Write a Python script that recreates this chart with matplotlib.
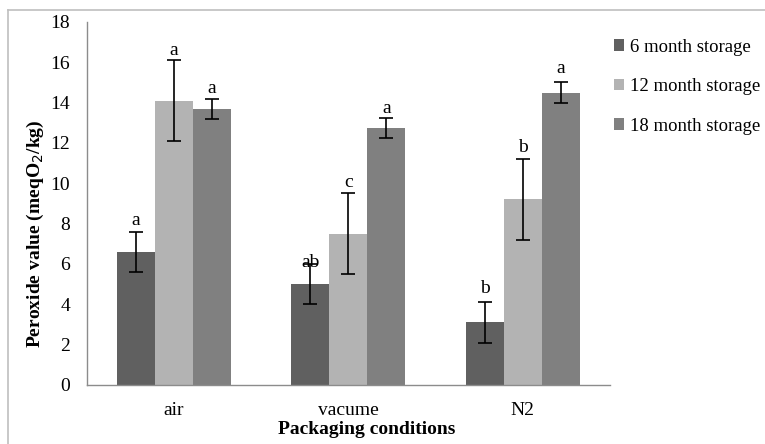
import numpy as np
import matplotlib
matplotlib.use("Agg")
import matplotlib.pyplot as plt
from matplotlib.lines import Line2D

plt.rcParams['font.family'] = ['Liberation Serif', 'DejaVu Serif']

# data
conditions = ['air', 'vacume', 'N2']
series = ['6 month storage', '12 month storage', '18 month storage']
m6 = [6.6, 5.0, 3.1]
m12 = [14.1, 7.5, 9.2]
m18 = [13.7, 12.75, 14.5]
err6 = [1.0, 1.0, 1.0]
err12 = [2.0, 2.0, 2.0]
err18 = [0.5, 0.5, 0.5]
letters6 = ['a', 'ab', 'b']
letters12 = ['a', 'c', 'b']
letters18 = ['a', 'a', 'a']
# heights where the significance letters sit
lety6 = [8.15, 6.05, 4.8]
lety12 = [16.6, 10.05, 11.8]
lety18 = [14.7, 13.7, 15.7]
colors = ['#606060', '#b3b3b3', '#808080']

fig = plt.figure(figsize=(7.65, 4.44), dpi=100)
ax = fig.add_axes([0.1137, 0.1329, 0.6833, 0.8176])

x = np.arange(len(conditions))
w = 0.218
vals = [m6, m12, m18]
errs = [err6, err12, err18]
letters = [letters6, letters12, letters18]
letys = [lety6, lety12, lety18]
for i in range(3):
    xs = x + (i - 1) * w
    ax.bar(xs, vals[i], w, color=colors[i], label=series[i])
    ax.errorbar(xs, vals[i], yerr=errs[i], fmt='none', ecolor='black',
                elinewidth=1.2, capsize=5, capthick=1.2)
    for xx, ly, t in zip(xs, letys[i], letters[i]):
        ax.text(xx, ly, t, ha='center', va='center', fontsize=14)

ax.set_xlim(-0.5, 2.5)
ax.set_ylim(0, 18)
ax.set_yticks(np.arange(0, 19, 2))
ax.set_xticks(x)
ax.set_xticklabels(conditions)
ax.tick_params(axis='both', length=0, labelsize=14)
ax.tick_params(axis='x', pad=12)
ax.tick_params(axis='y', pad=12)
for s in ['top', 'right']:
    ax.spines[s].set_visible(False)
for s in ['left', 'bottom']:
    ax.spines[s].set_color('#8c8c8c')
    ax.spines[s].set_linewidth(1.0)

ax.set_ylabel('Peroxide value (meqO$_2$/kg)', fontsize=14, fontweight='bold')
ax.yaxis.set_label_coords(-0.079, 0.416)
ax.set_xlabel('Packaging conditions', fontsize=14, fontweight='bold')
ax.xaxis.set_label_coords(0.535, -0.098)

ax.legend(loc='upper left', bbox_to_anchor=(0.994, 0.975), frameon=False,
          borderaxespad=0, fontsize=13.5, handlelength=0.55, handleheight=0.55,
          handletextpad=0.3, labelspacing=1.2)

# outer chart border
fig.add_artist(Line2D([8 / 765, 8 / 765], [0, 1 - 10 / 444], color='#bfbfbf', lw=1.2))
fig.add_artist(Line2D([8 / 765, 1], [1 - 10 / 444, 1 - 10 / 444], color='#bfbfbf', lw=1.2))

fig.savefig('out.png', dpi=100)
